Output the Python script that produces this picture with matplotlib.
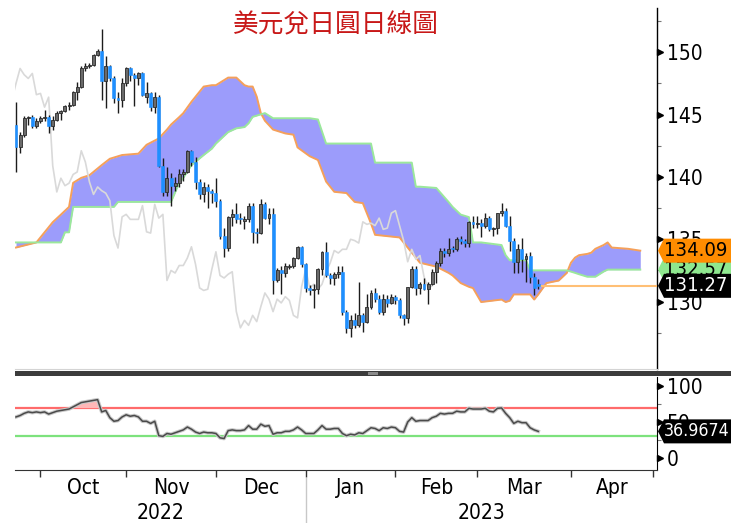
import matplotlib
matplotlib.use('Agg')
import matplotlib.pyplot as plt
import numpy as np
import pandas as pd
from matplotlib import font_manager as fm
from matplotlib.patches import Polygon, Rectangle

# ---------------- data ----------------
start_date = '2022-09-22'
opens = [144.2, 142.4, 143.4, 144.7, 144.8, 144.1, 144.5, 144.7, 144.8, 144.1,
         144.6, 145.1, 145.3, 145.7, 145.8, 146.8, 147.2, 148.7, 148.9, 149.0,
         149.8, 150.1, 147.7, 148.9, 147.9, 146.3, 146.2, 147.5, 148.7, 148.2,
         147.9, 148.3, 146.4, 146.7, 145.6, 146.4, 140.9, 138.8, 139.9, 139.3,
         139.5, 140.2, 140.4, 142.1, 141.2, 139.6, 138.6, 139.2, 138.9, 138.7,
         138.1, 135.3, 134.3, 136.8, 137.0, 136.7, 136.5, 136.6, 137.7, 135.6,
         135.5, 137.8, 136.7, 137.0, 131.7, 132.5, 132.3, 132.8, 132.9, 133.5,
         134.4, 133.0, 131.1, 130.9, 131.0, 132.6, 134.0, 132.1, 131.9, 132.2,
         132.4, 129.2, 127.9, 128.5, 128.1, 128.9, 128.4, 129.6, 130.7, 130.2,
         129.2, 130.2, 129.9, 130.4, 130.1, 128.9, 128.7, 131.2, 132.6, 131.1,
         131.4, 131.0, 131.4, 132.4, 133.1, 134.1, 133.9, 134.3, 134.2, 135.0,
         134.9, 134.7, 136.4, 136.2, 136.3, 136.1, 136.7, 135.8, 135.9, 137.1,
         137.3, 136.1, 134.9, 133.2, 134.2, 133.4, 133.7, 132.0, 131.4]
highs = [146.0, 143.6, 144.9, 144.9, 145.0, 144.7, 144.9, 145.4, 145.0, 144.9,
         145.3, 145.4, 145.8, 146.0, 146.9, 147.6, 148.9, 149.1, 149.1, 149.9,
         150.3, 151.9, 149.7, 149.0, 148.1, 146.8, 147.9, 148.8, 148.8, 148.3,
         148.4, 148.4, 147.6, 146.8, 146.8, 146.6, 141.5, 140.8, 140.3, 140.0,
         140.6, 140.6, 142.2, 142.2, 141.6, 139.8, 139.6, 139.4, 139.0, 139.9,
         138.2, 135.9, 136.9, 137.4, 137.9, 137.1, 136.9, 137.9, 137.9, 135.9,
         138.2, 138.0, 137.5, 137.5, 132.7, 132.9, 133.1, 133.0, 133.6, 134.5,
         134.5, 133.1, 131.3, 131.4, 132.7, 134.1, 134.8, 132.3, 132.4, 132.9,
         132.9, 129.3, 128.9, 129.1, 131.6, 129.1, 130.6, 130.9, 131.1, 130.5,
         130.6, 130.5, 130.6, 130.5, 130.3, 129.0, 131.2, 132.9, 132.9, 131.6,
         131.9, 131.6, 132.6, 133.3, 134.3, 134.3, 135.1, 134.5, 135.2, 135.3,
         135.0, 136.5, 136.9, 136.9, 136.6, 137.1, 136.9, 136.0, 137.1, 137.9,
         137.5, 136.9, 135.1, 134.6, 135.1, 133.9, 134.0, 132.3, 131.8]
lows = [140.4, 141.9, 143.2, 144.2, 143.9, 143.9, 144.3, 144.5, 143.5, 143.8,
        144.5, 144.6, 145.2, 145.4, 145.7, 146.2, 147.1, 148.5, 148.7, 148.9,
        149.7, 146.2, 145.5, 147.7, 145.9, 145.1, 145.6, 147.3, 147.7, 145.7,
        147.4, 146.5, 145.9, 145.3, 145.1, 140.8, 138.5, 138.5, 137.7, 138.9,
        139.2, 139.7, 140.3, 140.9, 139.0, 138.2, 138.0, 137.5, 137.9, 137.6,
        135.0, 133.6, 134.1, 136.1, 136.3, 136.2, 135.8, 136.4, 134.7, 134.7,
        135.4, 136.6, 136.2, 130.6, 131.6, 130.6, 132.0, 132.6, 132.7, 133.4,
        132.8, 130.8, 130.5, 129.5, 130.6, 132.1, 132.0, 131.4, 131.3, 131.9,
        128.9, 127.5, 127.2, 127.9, 128.0, 127.6, 128.3, 129.4, 130.0, 129.0,
        128.9, 129.6, 129.8, 129.8, 128.7, 128.1, 128.3, 131.1, 130.5, 130.6,
        130.9, 129.8, 131.3, 131.5, 132.9, 133.6, 133.7, 134.0, 134.1, 134.6,
        134.4, 134.4, 135.9, 135.9, 135.2, 135.9, 135.7, 135.3, 135.4, 136.9,
        136.0, 134.1, 132.3, 132.3, 132.4, 131.6, 131.5, 130.5, 131.0]
closes = [142.4, 143.4, 144.7, 144.8, 144.1, 144.5, 144.7, 144.8, 144.1, 144.6,
          145.1, 145.3, 145.7, 145.8, 146.8, 147.2, 148.7, 148.9, 149.0, 149.8,
          150.1, 147.7, 148.9, 147.9, 146.3, 146.2, 147.5, 148.7, 148.2, 147.9,
          148.3, 146.6, 146.7, 145.6, 146.4, 140.9, 138.8, 139.9, 139.3, 139.5,
          140.2, 140.4, 142.1, 141.2, 139.6, 138.6, 139.2, 138.9, 138.7, 138.1,
          135.3, 134.3, 136.8, 137.0, 136.6, 136.6, 136.6, 137.7, 135.6, 135.5,
          137.8, 136.7, 137.0, 131.7, 132.5, 132.3, 132.9, 132.9, 133.5, 134.4,
          133.0, 131.1, 130.9, 131.0, 132.6, 134.0, 132.1, 131.9, 132.2, 132.4,
          129.2, 127.9, 128.5, 128.1, 128.9, 128.4, 129.6, 130.7, 130.2, 129.2,
          130.2, 129.9, 130.4, 130.1, 128.9, 128.7, 131.2, 132.6, 131.1, 131.4,
          131.0, 131.4, 132.4, 133.1, 134.1, 133.9, 134.2, 134.2, 135.0, 134.9,
          134.7, 136.4, 136.2, 136.3, 136.1, 136.7, 135.8, 135.9, 137.1, 137.3,
          136.1, 134.9, 133.2, 134.2, 133.4, 133.7, 132.0, 131.1, 131.27]

# Ichimoku cloud spans (x = trading-day index, incl. 26 days ahead)
cloud_idx = [0, 5, 7, 9, 11, 12, 13, 14, 16, 18, 21, 23, 24, 25, 26, 30, 32, 35, 37, 38,
             40, 41, 43, 46, 48, 49, 52, 54, 56, 57, 58, 59, 60, 61, 63, 66, 68, 69, 72, 74,
             76, 78, 81, 83, 85, 87, 88, 94, 97, 98, 99, 103, 106, 107, 109, 111, 112, 114, 119, 120,
             121, 122, 125, 126, 127, 128, 130, 133, 135, 136, 137, 138, 140, 141, 142, 144, 145, 146, 150, 153]
span_a = [134.34, 134.75, 135.56, 136.37, 136.98, 137.29, 137.60, 139.53, 139.93, 140.14,
          140.95, 141.46, 141.56, 141.66, 141.76, 141.87, 142.58, 143.09, 143.80, 144.20,
          144.80, 145.12, 146.03, 147.25, 147.36, 147.36, 147.97, 147.97, 147.36, 147.25,
          147.25, 146.44, 145.12, 144.51, 143.80, 143.49, 143.39, 142.37, 141.66, 141.36,
          139.63, 138.81, 138.71, 138.00, 137.90, 136.27, 135.36, 135.15, 133.93, 133.53,
          133.12, 132.81, 132.31, 132.10, 131.49, 131.19, 131.09, 129.97, 130.17, 129.97,
          130.07, 130.58, 130.58, 130.58, 130.17, 130.58, 131.49, 131.69, 132.31, 133.12,
          133.53, 133.73, 133.83, 133.93, 134.24, 134.54, 134.75, 134.34, 134.24, 134.09]
span_b = [134.75, 134.75, 134.75, 134.75, 134.75, 135.56, 135.56, 137.60, 137.60, 137.60,
          137.60, 137.60, 137.60, 138.00, 138.00, 138.00, 138.00, 138.00, 138.00, 138.00,
          139.53, 139.93, 140.95, 141.76, 142.27, 142.68, 143.60, 143.90, 144.00, 144.31,
          144.82, 144.92, 145.02, 145.12, 144.71, 144.71, 144.71, 144.71, 144.71, 144.61,
          142.68, 142.68, 142.68, 142.68, 142.68, 142.68, 141.15, 141.15, 141.15, 139.22,
          139.22, 139.12, 138.00, 137.60, 136.98, 136.78, 134.75, 134.75, 134.54, 133.73,
          133.32, 133.32, 133.32, 132.51, 132.51, 132.51, 132.51, 132.51, 132.51, 132.41,
          132.31, 132.20, 132.00, 132.00, 132.00, 132.41, 132.57, 132.57, 132.57, 132.57]

rsi = [57, 59, 62, 64, 63, 64, 63, 64, 61, 63, 65, 66, 67, 68, 71, 74, 77, 78, 79, 80,
       81, 64, 66, 56, 51, 52, 57, 60, 58, 59, 57, 51, 51, 48, 51, 31, 30, 34, 33, 35,
       37, 39, 43, 40, 36, 34, 36, 35, 35, 34, 28, 27, 38, 39, 38, 38, 39, 45, 40, 40,
       47, 44, 45, 33, 35, 35, 37, 37, 39, 43, 39, 34, 34, 34, 39, 45, 40, 40, 41, 41,
       34, 31, 33, 32, 35, 34, 38, 42, 41, 38, 42, 41, 43, 42, 37, 36, 50, 56, 51, 52,
       52, 52, 56, 58, 62, 61, 62, 62, 65, 64, 64, 69, 68, 68, 68, 69, 65, 64, 69, 69.5,
       62, 56, 48, 51, 49, 49, 42, 39, 36.9674]

title = '美元兌日圓日線圖'
price_ticks = [130, 135, 140, 145, 150]
rsi_ticks = [0, 50, 100]
rsi_levels = [70, 30]
tag_a = 134.09
tag_b = 132.57

# ---------------- fonts ----------------
cond = None
for f in fm.fontManager.ttflist:
    fn = f.fname.lower()
    if ('narrow' in fn or 'condensed' in fn) and not any(k in fn for k in ('mono', 'serif', 'bold', 'italic', 'oblique', 'light', 'thin', 'black', 'medium', 'semi', 'extra')):
        if cond is None or 'liberation' in fn:
            cond = f
if cond is not None:
    plt.rcParams['font.family'] = [cond.name, 'DejaVu Sans']
    plt.rcParams['font.stretch'] = cond.stretch
    TICK_FS, TAG_FS, RSI_FS = 15, 14.5, 12.8
else:
    plt.rcParams['font.family'] = ['DejaVu Sans']
    TICK_FS, TAG_FS, RSI_FS = 13, 12.5, 11

W, H = 731, 523
fig = plt.figure(figsize=(W / 100, H / 100), dpi=100)
fig.patch.set_facecolor('white')

def fx(px):
    return px / W

def fy(py):
    return 1 - py / H

ax = fig.add_axes([fx(15), fy(369), fx(657) - fx(15), fy(8) - fy(369)])
ax2 = fig.add_axes([fx(15), fy(470), fx(657) - fx(15), fy(377) - fy(470)], sharex=ax)

n = len(closes)
idx = np.arange(n)
o = np.array(opens); h = np.array(highs); l = np.array(lows); c = np.array(closes)

XL = (-0.245, 157.1)
ax.set_xlim(*XL)
ax.set_ylim(124.6, 153.55)

# cloud
ax.fill_between(cloud_idx, span_a, span_b, color='#9c9cfb', lw=0, zorder=1)
ax.plot(cloud_idx, span_a, color='#f5a05a', lw=1.4, zorder=2)
ax.plot(cloud_idx, span_b, color='#9be89b', lw=1.4, zorder=2)

# lagging span
ax.plot(idx - 26, c, color='#d9d9d9', lw=1.2, zorder=3)

# last price line
ax.hlines(c[-1], idx[-1], XL[1], color='#ffbf75', lw=1.5, zorder=3)

# candles
up = c >= o
ax.vlines(idx, l, h, color='#1c1c1c', lw=1.0, zorder=4)
body = np.maximum(np.abs(c - o), 0.08)
bottom = np.minimum(o, c)
ax.bar(idx[up], body[up], bottom=bottom[up], width=0.72, color='#6a6a6a',
       edgecolor='#2a2a2a', linewidth=0.6, zorder=5)
ax.bar(idx[~up], body[~up], bottom=bottom[~up], width=0.72, color='#1e8fff',
       edgecolor='#1e8fff', linewidth=0.4, zorder=5)

# axes styling main
for s in ['left', 'top']:
    ax.spines[s].set_visible(False)
ax.spines['bottom'].set_color('#d4d4d4')
ax.spines['right'].set_color('black')
ax.spines['right'].set_linewidth(1.0)
ax.tick_params(axis='x', which='both', bottom=False, labelbottom=False)
ax.yaxis.tick_right()
ax.set_yticks(price_ticks)
ax.set_yticks(np.arange(127.5, 153, 5), minor=True)
ax.tick_params(axis='y', which='major', length=0, pad=7, labelsize=TICK_FS, colors='black')
ax.tick_params(axis='y', which='minor', length=3, width=0.8, color='#777777')
ax.plot(np.ones(len(price_ticks)) * 1.004, price_ticks, marker='>', ms=4.5, color='black', ls='none',
        transform=ax.get_yaxis_transform(), clip_on=False, zorder=6)

# RSI panel
ax2.set_ylim(-16.7, 112.5)
ax2.axhline(rsi_levels[0], color='#ff6b6b', lw=1.6, zorder=1)
ax2.axhline(rsi_levels[1], color='#7de27d', lw=1.6, zorder=1)
r = np.array(rsi, dtype=float)
ax2.fill_between(idx, r, rsi_levels[0], where=r > rsi_levels[0], interpolate=True,
                 color='#ffb8b8', lw=0, zorder=2)
ax2.plot(idx, r, color='#c8c8c8', lw=2.6, zorder=3)
ax2.plot(idx, r, color='#4a4a4a', lw=1.1, zorder=4)
for s in ['left', 'top']:
    ax2.spines[s].set_visible(False)
ax2.spines['bottom'].set_color('#333333')
ax2.spines['right'].set_color('black')
ax2.yaxis.tick_right()
ax2.set_yticks(rsi_ticks)
ax2.set_yticks([25, 75], minor=True)
ax2.tick_params(axis='y', which='major', length=0, pad=7, labelsize=TICK_FS, colors='black')
ax2.tick_params(axis='y', which='minor', length=3, width=0.8, color='#777777')
ax2.plot(np.ones(len(rsi_ticks)) * 1.004, rsi_ticks, marker='>', ms=4.5, color='black', ls='none',
         transform=ax2.get_yaxis_transform(), clip_on=False, zorder=6)

# month axis
dates = pd.bdate_range(start_date, periods=162)
per = dates.to_period('M')
first = [i for i in range(1, len(dates)) if per[i] != per[i - 1]]
bounds = [i - 1.0 for i in first]
mids, mlabels = [], []
for a, b, fi in zip(bounds[:-1], bounds[1:], first[:-1]):
    mids.append((a + b) / 2)
    mlabels.append(dates[fi].strftime('%b'))
ax2.set_xticks([b for b in bounds if XL[0] <= b <= XL[1]])
ax2.set_xticklabels([])
ax2.set_xticks(mids, minor=True)
ax2.set_xticklabels(mlabels, minor=True)
ax2.tick_params(axis='x', which='major', length=5, width=1, color='#333333', direction='out')
ax2.tick_params(axis='x', which='minor', length=0, pad=6, labelsize=TICK_FS)

# years
tb = ax2.get_xaxis_transform()
jan_b = [b for b, fi in zip(bounds, first) if dates[fi].month == 1][0]
ax2.plot([jan_b, jan_b], [-0.09, -0.6], color='#c8c8c8', lw=1, transform=tb, clip_on=False)
ax2.text((XL[0] + jan_b) / 2, -0.46, str(dates[first[0]].year), transform=tb, ha='center', va='center', fontsize=TICK_FS)
ax2.text((jan_b + XL[1]) / 2, -0.46, str(dates[first[0]].year + 1), transform=tb, ha='center', va='center', fontsize=TICK_FS)

# separator band
fig.patches.append(Rectangle((fx(15), fy(375.5)), fx(731) - fx(15), fy(370.5) - fy(375.5),
                             transform=fig.transFigure, facecolor='#3c3c3c', edgecolor='none', zorder=5))
fig.patches.append(Rectangle((fx(368), fy(374.5)), fx(10), fy(372) - fy(374.5),
                             transform=fig.transFigure, facecolor='#8a8a8a', edgecolor='none', zorder=6))

# value tags
def tag(axis, value, text, face, tcolor, z, fs):
    pos = axis.get_position()
    wpx = pos.width * W
    hpx = pos.height * H
    y0, y1 = axis.get_ylim()
    hh = 12.0 / (hpx / (y1 - y0))
    tr = axis.get_yaxis_transform()
    right = (W - 15) / wpx
    pts = [(1 + 1 / wpx, value), (1 + 7 / wpx, value + hh), (right, value + hh),
           (right, value - hh), (1 + 7 / wpx, value - hh)]
    axis.add_patch(Polygon(pts, closed=True, transform=tr, facecolor=face, edgecolor='none',
                           clip_on=False, zorder=z))
    axis.text(1 + 7 / wpx, value, text, transform=tr, ha='left', va='center', fontsize=fs,
              color=tcolor, clip_on=False, zorder=z + 1)

tag(ax, tag_b, f'{tag_b:.2f}', '#8fe88f', 'black', 20, TAG_FS)
tag(ax, tag_a, f'{tag_a:.2f}', '#ff8c00', 'black', 22, TAG_FS)
tag(ax, c[-1], f'{c[-1]:.2f}', 'black', 'white', 24, TAG_FS)
tag(ax2, r[-1], f'{r[-1]:.4f}', 'black', 'white', 24, RSI_FS)

# title
fig.text(fx(336), fy(25), title, ha='center', va='center', fontsize=18.5, color='#c81818',
         family=['Noto Sans CJK TC', 'DejaVu Sans'])

fig.savefig('out.png', dpi=100, facecolor='white')
